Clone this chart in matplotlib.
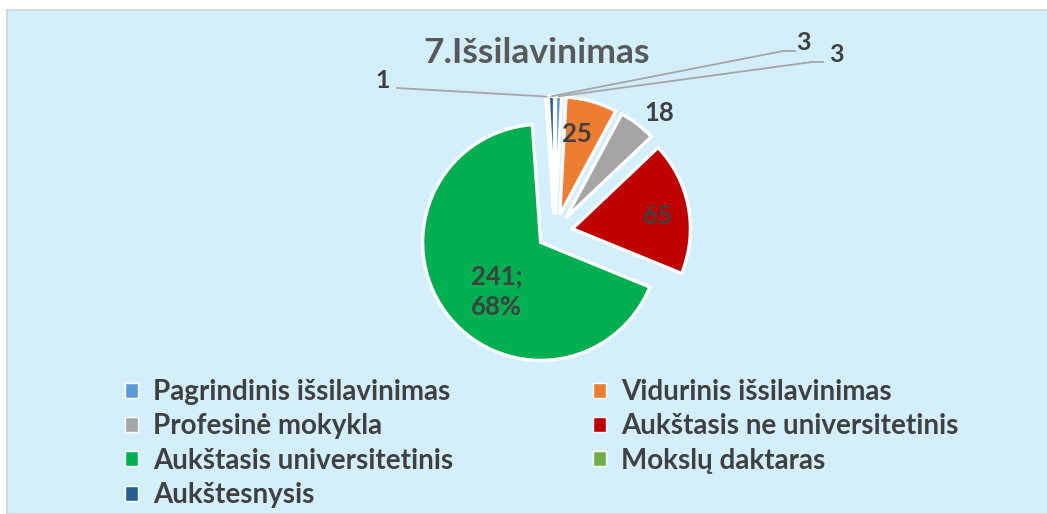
import matplotlib.pyplot as plt
import numpy as np
from matplotlib.lines import Line2D
from matplotlib.patches import Rectangle

plt.rcParams['font.family'] = ['Lato', 'DejaVu Sans']

# data
categories = ['Pagrindinis išsilavinimas', 'Vidurinis išsilavinimas',
              'Profesinė mokykla', 'Aukštasis ne universitetinis',
              'Aukštasis universitetinis', 'Mokslų daktaras', 'Aukštesnysis']
values = [3, 25, 18, 65, 241, 1, 3]
colors = ['#5B9BD5', '#ED7D31', '#A5A5A5', '#C00000',
          '#00B050', '#70AD47', '#255E91']
title = '7.Išsilavinimas'

W, H, DPI = 1047, 514, 100
BG = '#D4EFFC'
TXT = '#404040'


def px(x, y):
    '''pixel position (origin top-left) -> figure fraction'''
    return x / W, 1 - y / H


fig = plt.figure(figsize=(W / DPI, H / DPI), dpi=DPI, facecolor='white')
fig.add_artist(Rectangle((7 / W, 0), 1, (H - 10) / H, transform=fig.transFigure,
                         facecolor=BG, edgecolor='#D9D9D9', lw=1.5, zorder=0))

# pie axes: 1 data unit = 118 px, pie centre at (555, 232)
R, L = 118, 1.6
cx, cy = 555, 232
ax = fig.add_axes([(cx - L * R) / W, (H - cy - L * R) / H, 2 * L * R / W, 2 * L * R / H])
wedges, _ = ax.pie(values, colors=colors, startangle=90, counterclock=False,
                   explode=[0.15] * len(values), radius=1,
                   wedgeprops=dict(edgecolor='white', linewidth=2.4))
ax.set_xlim(-L, L)
ax.set_ylim(-L, L)
ax.axis('off')
ax.patch.set_visible(False)


def wedge_point(w, frac):
    ang = np.deg2rad((w.theta1 + w.theta2) / 2)
    x0, y0 = w.center
    return x0 + frac * w.r * np.cos(ang), y0 + frac * w.r * np.sin(ang)


total = sum(values)
texts = [str(v) for v in values]
texts[4] = '{};\n{}%'.format(values[4], round(100 * values[4] / total))

# labels placed on / near the slices (index, radius fraction, pixel nudge)
for i, frac, dx, dy in [(1, 0.71, -5, 0), (3, 0.72, 2, -3), (4, 0.5, 4, -15),
                        (2, 1.22, 6, -9)]:
    ax.annotate(texts[i], wedge_point(wedges[i], frac), xytext=(dx * 0.72, dy * 0.72),
                textcoords='offset points', ha='center', va='center',
                fontsize=18.5, fontweight='bold', color=TXT, linespacing=1.35)

# labels with leader lines for the tiny slices
leaders = [(5, (383, 80), [(397, 88)]),
           (6, (803, 42), [(795, 51), (783, 51)]),
           (0, (836, 55), [(823, 62), (812, 62)])]
tr = fig.transFigure.inverted()
for i, tpos, pts in leaders:
    sx, sy = tr.transform(ax.transData.transform(wedge_point(wedges[i], 1.0)))
    xs = [px(*p)[0] for p in pts] + [sx]
    ys = [px(*p)[1] for p in pts] + [sy]
    fig.add_artist(Line2D(xs, ys, transform=fig.transFigure, color='#A6A6A6', lw=1.3))
    fig.text(*px(*tpos), texts[i], ha='center', va='center', fontsize=18,
             fontweight='bold', color=TXT)

fig.text(*px(537, 53), title, ha='center', va='center', fontsize=25.5,
         fontweight='bold', color='#595959')

# legend, row-major like the original
order = [0, 2, 4, 6, 1, 3, 5]
handles = [Rectangle((0, 0), 1, 1, facecolor=colors[i], edgecolor='white', lw=1)
           for i in order]
fig.legend(handles, [categories[i] for i in order], ncol=2, loc='upper left',
           bbox_to_anchor=px(125, 379), frameon=False,
           prop=dict(weight='bold', size=20),
           labelcolor=TXT, handlelength=0.45, handleheight=0.45,
           handletextpad=0.55, columnspacing=5.05, labelspacing=0.3,
           borderpad=0, borderaxespad=0)

fig.savefig('out.png', dpi=DPI, facecolor='white')
